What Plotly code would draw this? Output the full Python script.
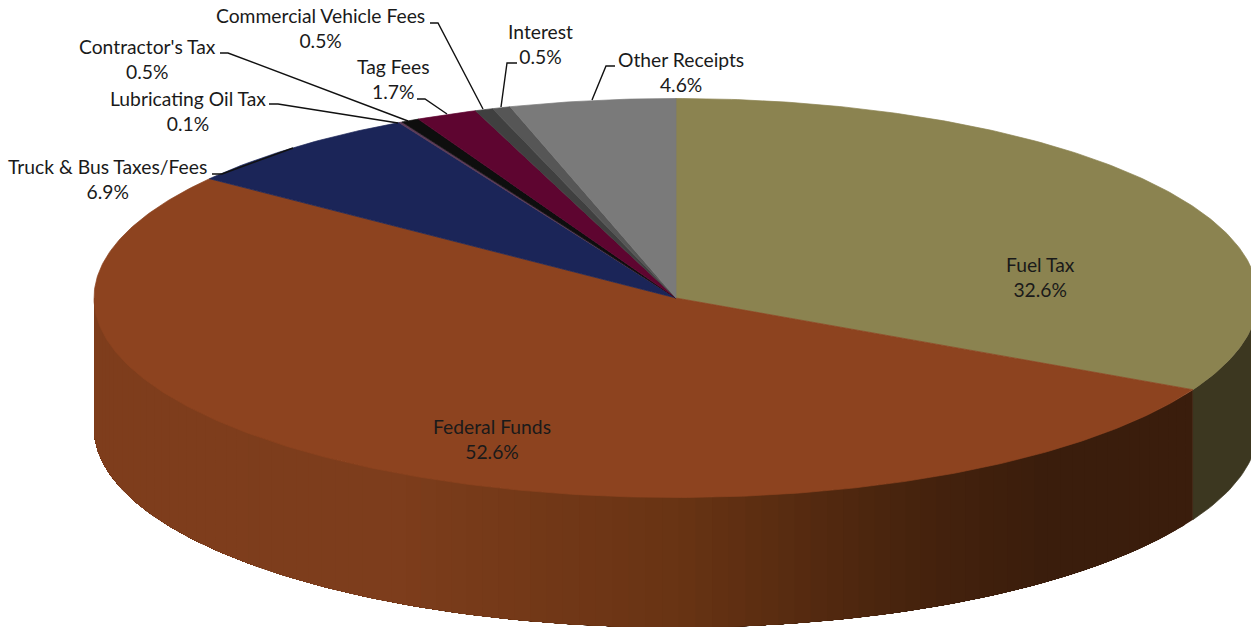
import numpy as np
import plotly.graph_objects as go

# --- data ---
categories = ["Fuel Tax", "Federal Funds", "Truck & Bus Taxes/Fees", "Lubricating Oil Tax",
              "Contractor's Tax", "Tag Fees", "Commercial Vehicle Fees", "Interest", "Other Receipts"]
values = [32.6, 52.6, 6.9, 0.1, 0.5, 1.7, 0.5, 0.5, 4.6]
colors = ["#8B8350", "#8D431F", "#1B2558", "#5A3A55", "#0E0E0E", "#5E0530", "#404040", "#565656", "#7A7A7A"]

# --- layout of the tilted disc, in page pixels ---
W, H = 1251, 627
CX, CY, RX, RY, DEPTH = 676.0, 298.0, 582.0, 199.5, 130.0
FUEL_SIDE = "#3C3720"
FED_SIDE_X = [94, 400, 676, 900, 1050, 1200]
FED_SIDE_R = [127, 125, 105, 72, 58, 58]
FED_SIDE_G = [62, 61, 52, 36, 29, 29]
FED_SIDE_B = [28, 28, 20, 14, 12, 12]

LABEL_POS = {"Fuel Tax": (1040, 277), "Federal Funds": (491.5, 439), "Truck & Bus Taxes/Fees": (107.5, 179),
             "Lubricating Oil Tax": (188, 111), "Contractor's Tax": (147, 59), "Tag Fees": (393, 79),
             "Commercial Vehicle Fees": (320.5, 28), "Interest": (540, 44), "Other Receipts": (681, 72)}
LEADERS = [[(212, 174), (222, 174), (293, 148)],
           [(269, 104), (278, 104), (398, 123)],
           [(220, 53), (228, 53), (408, 121)],
           [(417, 99), (425, 99), (447, 114)],
           [(430, 23), (438, 23), (483, 109)],
           [(517, 63), (507, 63), (501, 107)],
           [(615, 66), (606, 66), (592, 100)]]


def px(theta):
    return CX + RX * np.sin(theta)


def py(theta):
    return CY - RY * np.cos(theta)


fig = go.Figure()


def poly(xs, ys, color, width=0.7):
    fig.add_trace(go.Scatter(x=xs, y=ys, mode="lines", fill="toself", fillcolor=color,
                             line=dict(color=color, width=width), hoverinfo="skip", showlegend=False))


fracs = np.cumsum([0] + values) / sum(values) * 2 * np.pi

# side wall: only the front half of the disc (90 to 270 degrees clockwise from the top)
front0, front1 = np.pi / 2, 3 * np.pi / 2
for i in range(len(values)):
    a0, a1 = max(fracs[i], front0), min(fracs[i + 1], front1)
    if a1 <= a0:
        continue
    if categories[i] == "Fuel Tax":
        t = np.linspace(a0, a1, 30)
        poly(np.r_[px(t), px(t[::-1])], np.r_[py(t), py(t[::-1]) + DEPTH], FUEL_SIDE)
        continue
    n = max(2, int((a1 - a0) / np.pi * 110))
    edges = np.linspace(a0, a1, n + 1)
    # each strip runs on to the far end of the wall, so later strips overlap earlier ones without seams
    for k in range(n):
        t = np.linspace(edges[k], a1, max(4, (n - k) * 3))
        xs = np.r_[px(t), px(t[::-1])]
        ys = np.r_[py(t), py(t[::-1]) + DEPTH]
        xm = px((edges[k] + edges[k + 1]) / 2)
        col = "rgb(%d,%d,%d)" % (np.interp(xm, FED_SIDE_X, FED_SIDE_R),
                                 np.interp(xm, FED_SIDE_X, FED_SIDE_G),
                                 np.interp(xm, FED_SIDE_X, FED_SIDE_B))
        poly(xs, ys, col, width=0)

# top face
for i, c in enumerate(colors):
    t = np.linspace(fracs[i], fracs[i + 1], max(3, int(values[i] * 6)))
    poly(np.r_[CX, px(t), CX], np.r_[CY, py(t), CY], c)

# leader lines
for pts in LEADERS:
    fig.add_trace(go.Scatter(x=[p[0] for p in pts], y=[p[1] for p in pts], mode="lines",
                             line=dict(color="#111111", width=1.4), hoverinfo="skip", showlegend=False))

# labels
for name, v in zip(categories, values):
    x, y = LABEL_POS[name]
    fig.add_annotation(x=x, y=y, text=f"{name}<br>{v}%", showarrow=False, xanchor="center", yanchor="middle",
                       font=dict(family="Lato", size=19.3, color="#1a1a1a"), align="center")

fig.update_xaxes(range=[0, W], visible=False, fixedrange=True)
fig.update_yaxes(range=[H, 0], visible=False, fixedrange=True)
fig.update_layout(width=W, height=H, margin=dict(l=0, r=0, t=0, b=0),
                  paper_bgcolor="white", plot_bgcolor="white", showlegend=False)
fig.write_html("out.html", config={"displayModeBar": False},
               post_script="document.body.style.margin='0';document.body.style.overflow='hidden';")
